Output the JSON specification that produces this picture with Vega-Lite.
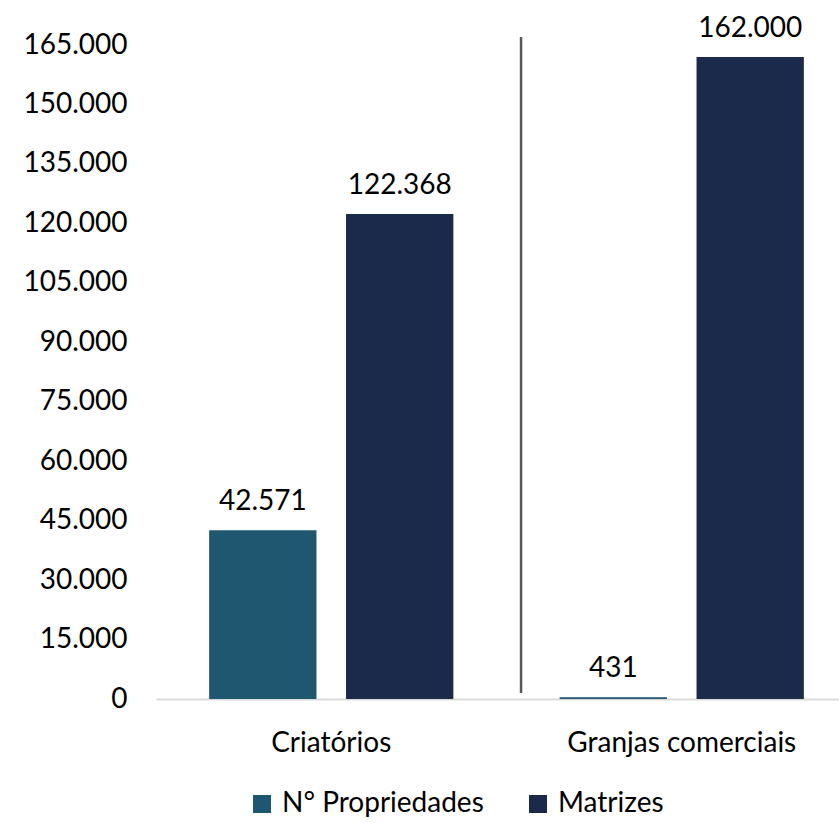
{
  "$schema": "https://vega.github.io/schema/vega-lite/v6.json",
  "autosize": {"type": "none"},
  "width": 683,
  "height": 654,
  "padding": {"left": 156, "top": 45, "right": 0, "bottom": 124},
  "background": "white",
  "config": {
    "view": {"stroke": null},
    "font": "Lato",
    "locale": {"number": {"decimal": ",", "thousands": ".", "grouping": [3], "currency": ["R$", ""]}}
  },
  "layer": [
    {
      "data": {"name": "barras", "values": [
        {"grupo": "Criatórios", "serie": "N° Propriedades", "valor": 42571},
        {"grupo": "Criatórios", "serie": "Matrizes", "valor": 122368},
        {"grupo": "Granjas comerciais", "serie": "N° Propriedades", "valor": 431},
        {"grupo": "Granjas comerciais", "serie": "Matrizes", "valor": 162000}
      ]},
      "encoding": {
        "x": {
          "field": "grupo", "type": "nominal", "sort": ["Criatórios", "Granjas comerciais"],
          "scale": {"range": [0, 701], "paddingInner": 0.083, "paddingOuter": 0.0415},
          "axis": {"title": null, "labelAngle": 0, "labelFontSize": 28, "labelLimit": 0, "labelColor": "#000000", "labelPadding": 30, "ticks": false, "domainColor": "#d9d9d9", "domainWidth": 2}
        },
        "xOffset": {
          "field": "serie", "type": "nominal", "sort": ["N° Propriedades", "Matrizes"],
          "scale": {"paddingInner": 0.216, "paddingOuter": 0.282}
        },
        "y": {
          "field": "valor", "type": "quantitative",
          "scale": {"domain": [0, 165000], "nice": false},
          "axis": {"title": null, "values": [0, 15000, 30000, 45000, 60000, 75000, 90000, 105000, 120000, 135000, 150000, 165000], "format": ",d", "labelFontSize": 28, "labelColor": "#000000", "labelPadding": 29, "ticks": false, "domain": false, "grid": false}
        }
      },
      "layer": [
        {
          "mark": {"type": "bar"},
          "encoding": {
            "color": {
              "field": "serie", "type": "nominal",
              "scale": {"domain": ["N° Propriedades", "Matrizes"], "range": ["#1f5670", "#1b2a4b"]},
              "legend": {"title": null, "orient": "none", "legendX": 92, "legendY": 745, "direction": "horizontal", "symbolType": "square", "symbolSize": 324, "symbolStrokeWidth": 0, "labelFontSize": 28, "labelLimit": 0, "labelColor": "#000000", "columnPadding": 40, "labelOffset": 6, "padding": 0}
            }
          }
        },
        {
          "mark": {"type": "text", "baseline": "alphabetic", "dy": -20, "fontSize": 28, "color": "#000000"},
          "encoding": {"text": {"field": "valor", "type": "quantitative", "format": ",d"}}
        }
      ]
    },
    {
      "data": {"name": "separador", "values": [{"grupo": "Granjas comerciais", "topo": 167000, "base": 1500}]},
      "mark": {"type": "rule", "color": "#595959", "strokeWidth": 2.5},
      "encoding": {
        "x": {"field": "grupo", "type": "nominal", "bandPosition": 0},
        "y": {"field": "topo", "type": "quantitative"},
        "y2": {"field": "base"}
      }
    }
  ]
}
